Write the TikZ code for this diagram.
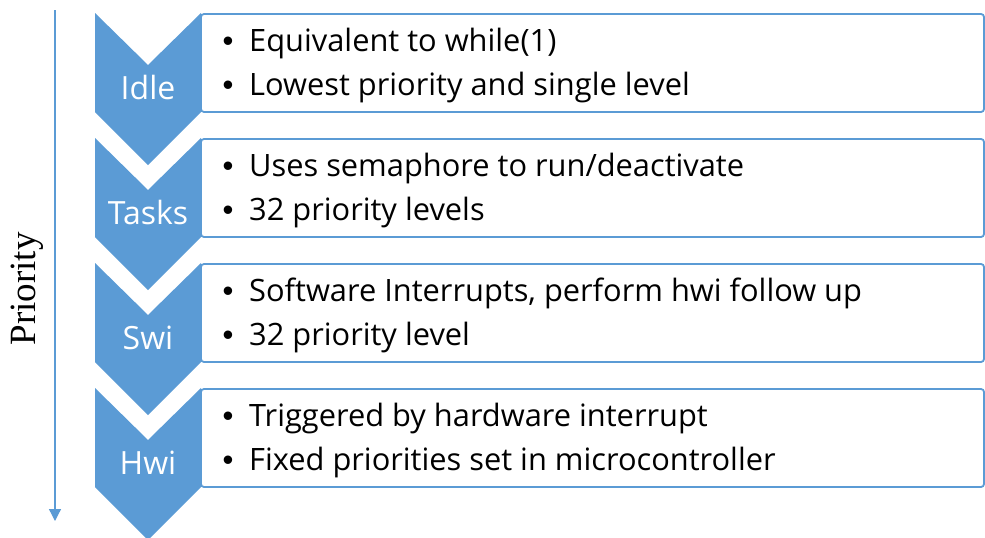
\documentclass[tikz,border=0pt]{standalone}
\usepackage{fontspec}
\setmainfont{Open Sans}
\newfontfamily\prioserif{Liberation Serif}
\newfontfamily\bulletfont{Liberation Sans}
\usetikzlibrary{arrows.meta}
\definecolor{officeblue}{HTML}{5B9BD5}
\tikzset{
  chev/.style={fill=officeblue, draw=none},
  infobox/.style={draw=officeblue, line width=1.8pt, rounded corners=3pt, fill=white},
  lbl/.style={text=white, font=\fontsize{32}{36}\selectfont, anchor=base, inner sep=0pt},
  item/.style={font=\fontsize{30.8}{34}\selectfont, anchor=base west, inner sep=0pt, text=black},
  bul/.style={font=\bulletfont\fontsize{31}{34}\selectfont, anchor=base, inner sep=0pt, text=black},
  prioarrow/.style={draw=officeblue, line width=1.3pt, -{Triangle[width=12pt,length=12pt]}}
}
\begin{document}
\begin{tikzpicture}[x=1pt,y=-1pt]
\useasboundingbox (0,0) rectangle (985,538);
% priority arrow
\coordinate (arTop) at (55,10);
\coordinate (arBot) at (55,521);
\draw[prioarrow] (arTop) -- (arBot);
\node[rotate=90, anchor=base, inner sep=0pt, font=\prioserif\fontsize{37}{40}\selectfont] (prio) at (35,289) {Priority};
% rows
\foreach \t/\name/\la/\lb [count=\i from 0] in {
  13/Idle/{Equivalent to while(1)}/{Lowest priority and single level},
  138/Tasks/{Uses semaphore to run/deactivate}/{32 priority levels},
  263/Swi/{Software Interrupts, perform hwi follow up}/{32 priority level},
  388/Hwi/{Triggered by hardware interrupt}/{Fixed priorities set in microcontroller}}
{
  \draw[infobox] (201,\t+1) rectangle (984,\t+99);
  \fill[chev] (95,\t) -- (148,\t+52) -- (201,\t) -- (201,\t+99) -- (148,\t+152) -- (95,\t+99) -- cycle;
  \node[lbl] (lab\i) at (148,\t+86) {\name};
  \node[bul] (bA\i) at (228,\t+38) {•};
  \node[item] (tA\i) at (249,\t+38) {\la};
  \node[bul] (bB\i) at (228,\t+82) {•};
  \node[item] (tB\i) at (249,\t+82) {\lb};
}
\end{tikzpicture}
\end{document}
